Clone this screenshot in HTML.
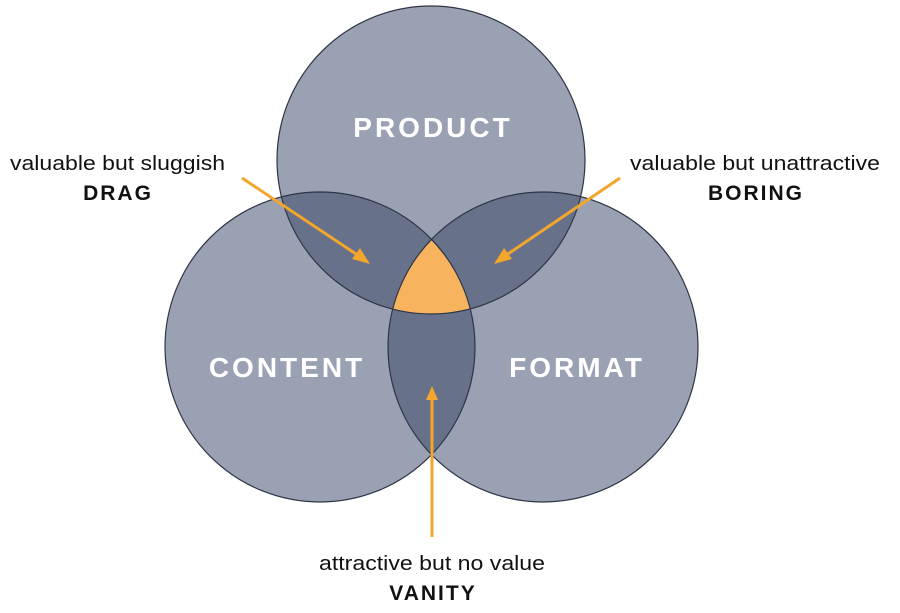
<!DOCTYPE html>
<html><head><meta charset="utf-8"><style>
html,body{margin:0;padding:0;background:#fff;}
svg{display:block;}
</style></head><body>
<svg width="900" height="613" viewBox="0 0 900 613" xmlns="http://www.w3.org/2000/svg">
<defs>
<clipPath id="cT"><circle cx="431" cy="160" r="154"/></clipPath>
<clipPath id="cL"><circle cx="320" cy="347" r="155"/></clipPath>
<clipPath id="cR"><circle cx="543" cy="347" r="155"/></clipPath>
</defs>
<g fill="#9aa1b3">
<circle cx="431" cy="160" r="154"/>
<circle cx="320" cy="347" r="155"/>
<circle cx="543" cy="347" r="155"/>
</g>
<g fill="#67718a">
<circle cx="320" cy="347" r="155" clip-path="url(#cT)"/>
<circle cx="543" cy="347" r="155" clip-path="url(#cT)"/>
<circle cx="543" cy="347" r="155" clip-path="url(#cL)"/>
</g>
<g clip-path="url(#cT)"><circle cx="543" cy="347" r="155" fill="#f8b35f" clip-path="url(#cL)"/></g>
<g fill="none" stroke="#2e3545" stroke-width="1.2">
<circle cx="431" cy="160" r="154"/>
<circle cx="320" cy="347" r="155"/>
<circle cx="543" cy="347" r="155"/>
</g>
<g stroke="#f2a62b" stroke-width="3" fill="none">
<line x1="242" y1="178" x2="362" y2="258"/>
<line x1="620" y1="178" x2="502" y2="258"/>
<line x1="432" y1="537" x2="432" y2="396"/>
</g>
<g fill="#f2a62b">
<path d="M370,264 L352,259 L360,248 Z"/>
<path d="M494,264 L504,248 L512,259 Z"/>
<path d="M432,386 L426,400 L438,400 Z"/>
</g>
<g font-family="Liberation Sans, sans-serif" font-weight="bold" fill="#fff" font-size="28" letter-spacing="3" text-anchor="middle">
<text x="433" y="137">PRODUCT</text>
<text x="287" y="377">CONTENT</text>
<text x="577" y="377">FORMAT</text>
</g>
<g font-family="Liberation Sans, sans-serif" fill="#111" font-size="20">
<text x="10" y="170" textLength="215" lengthAdjust="spacingAndGlyphs">valuable but sluggish</text>
<text x="630" y="170" textLength="250" lengthAdjust="spacingAndGlyphs">valuable but unattractive</text>
<text x="319" y="570" textLength="226" lengthAdjust="spacingAndGlyphs">attractive but no value</text>
</g>
<g font-family="Liberation Sans, sans-serif" font-weight="bold" fill="#111" font-size="21" letter-spacing="2" text-anchor="middle">
<text x="118" y="200">DRAG</text>
<text x="756" y="200">BORING</text>
<text x="433" y="600">VANITY</text>
</g>
</svg>
</body></html>
